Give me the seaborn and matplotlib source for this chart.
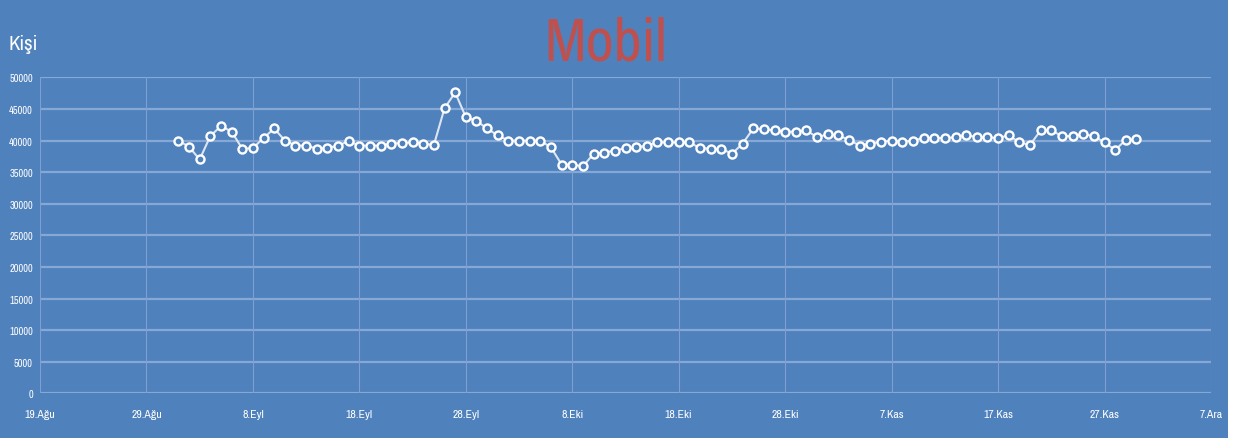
import matplotlib
matplotlib.use("Agg")
import matplotlib.pyplot as plt
from matplotlib import font_manager
import seaborn as sns
import pandas as pd

# Daily visitor counts (mobile), 1 Sep - 30 Nov
start_date = "2019-09-01"
visitors = [
    40000, 39000, 37000, 40700, 42300, 41400, 38700, 38800, 40400, 41900,
    40000, 39200, 39200, 38700, 38800, 39200, 39900, 39200, 39200, 39200,
    39500, 39600, 39700, 39500, 39300, 45100, 47600, 43700, 43100, 41900,
    40800, 40000, 40000, 40000, 40000, 38900, 36200, 36200, 35900, 37900,
    38100, 38400, 38800, 38900, 39200, 39700, 39700, 39700, 39700, 38800,
    38700, 38700, 37900, 39500, 41900, 41800, 41600, 41400, 41400, 41600,
    40500, 41000, 40800, 40100, 39200, 39500, 39800, 40000, 39800, 40000,
    40400, 40400, 40400, 40500, 40900, 40500, 40500, 40400, 40800, 39700,
    39300, 41600, 41600, 40700, 40700, 41000, 40700, 39700, 38500, 40100,
    40200,
]
tick_dates = ["2019-08-19", "2019-08-29", "2019-09-08", "2019-09-18",
              "2019-09-28", "2019-10-08", "2019-10-18", "2019-10-28",
              "2019-11-07", "2019-11-17", "2019-11-27", "2019-12-07"]
tick_labels = ["19.Ağu", "29.Ağu", "8.Eyl", "18.Eyl", "28.Eyl", "8.Eki",
               "18.Eki", "28.Eki", "7.Kas", "17.Kas", "27.Kas", "7.Ara"]
y_ticks = [0, 5000, 10000, 15000, 20000, 25000, 30000, 35000, 40000, 45000, 50000]

df = pd.DataFrame({
    "date": pd.date_range(start_date, periods=len(visitors), freq="D"),
    "visitors": visitors,
})

# prefer a condensed face when one is available
installed = sorted({f.name for f in font_manager.fontManager.ttflist})
condensed = [n for n in installed if "Narrow" in n or "Condensed" in n]
face = condensed[0] if condensed else ("Roboto" if "Roboto" in installed else "DejaVu Sans")

BG = "#4f81bd"
sns.set_theme(style="white")
plt.rcParams["font.family"] = [face, "DejaVu Sans"]

fig = plt.figure(figsize=(12.46, 4.39), dpi=100, facecolor="white")
# blue panel that fills the card
fig.patches.append(plt.Rectangle((0, 0), 1228 / 1246, 1, transform=fig.transFigure,
                                 facecolor=BG, edgecolor="none", zorder=-10))
ax = fig.add_axes([40 / 1246, (439 - 394.3) / 439, (1211 - 40) / 1246, (394.3 - 78.3) / 439])
ax.set_facecolor(BG)

sns.lineplot(data=df, x="date", y="visitors", ax=ax, color="#dce6f2", linewidth=1.5,
             marker="o", markersize=5.8, markeredgecolor="white", markeredgewidth=1.7,
             markerfacecolor=BG, zorder=5)

ax.set_xlim(pd.Timestamp(tick_dates[0]), pd.Timestamp(tick_dates[-1]))
ax.set_ylim(0, 50000)
ax.set_xticks(pd.to_datetime(tick_dates))
ax.set_xticklabels(tick_labels)
ax.set_yticks(y_ticks)
ax.set_yticklabels([str(v) for v in y_ticks])
ax.tick_params(axis="x", colors="white", labelsize=8.5, length=0, pad=11)
ax.tick_params(axis="y", colors="white", labelsize=7.5, length=0, pad=5)

for v in y_ticks:
    ax.axhline(v, color="#86a8d6", linewidth=1.6, zorder=1)
for d in tick_dates:
    ax.axvline(pd.Timestamp(d), color="#7e9fd0", linewidth=0.8, zorder=1)

for s in ax.spines.values():
    s.set_visible(False)
ax.set_xlabel("")
ax.set_ylabel("")

fig.text(606 / 1246, 1 - 44 / 439, "Mobil", color="#c0504d", fontsize=44,
         ha="center", va="center")
fig.text(8 / 1246, 1 - 45 / 439, "Kişi", color="white", fontsize=15,
         ha="left", va="center")

fig.savefig("out.png", dpi=100, facecolor=fig.get_facecolor())
